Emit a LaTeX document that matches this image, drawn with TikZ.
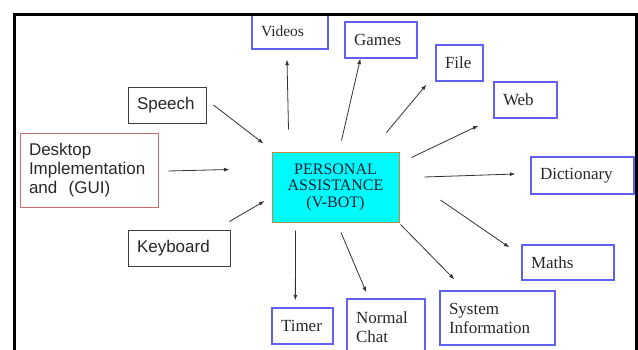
\documentclass[tikz,border=0pt]{standalone}
\usepackage{fontspec}
\setmainfont{Liberation Serif}
\newfontfamily\arialfont{Liberation Sans}
\usetikzlibrary{calc,arrows.meta}

\definecolor{bluebox}{RGB}{96,96,245}
\definecolor{redbox}{RGB}{200,110,110}
\definecolor{greybox}{RGB}{60,60,60}
\definecolor{coreborder}{RGB}{190,140,70}
\definecolor{corefill}{RGB}{0,250,250}
\definecolor{txt}{RGB}{40,40,40}
\definecolor{arrowcol}{RGB}{50,50,50}

\tikzset{
  bx/.style 2 args={draw, rectangle, text width=#1, minimum height=#2,
    inner xsep=9pt, inner ysep=0pt, align=left, text=txt},
  bluebx/.style={draw=bluebox, line width=1.3pt,
    font=\fontsize{17}{19}\selectfont},
  greybx/.style={draw=greybox, line width=0.9pt,
    font=\arialfont\fontsize{17}{19}\selectfont},
  link/.style={draw=arrowcol, line width=0.8pt,
    -{Latex[length=5.5pt,width=4pt]}},
}

\begin{document}
\begin{tikzpicture}[x=1pt, y=-1pt]
\useasboundingbox (0,0) rectangle (638,349);
\clip (0,0) rectangle (638,349);

% central hub
\node[bx={109pt}{70pt}, align=center, draw=coreborder, line width=1pt,
      fill=corefill, text={rgb,255:red,20;green,30;blue,50},
      font=\fontsize{16}{16.5}\selectfont]
  (pa) at (335.5,187) {PERSONAL\\ASSISTANCE\\(V-BOT)};

% input boxes
\node[bx={60pt}{36pt}, greybx] (speech) at (167,105) {Speech};
\node[bx={120pt}{74pt}, greybx, draw=redbox] (desk) at (89,170)
  {Desktop\\Implementation\\and\ \ (GUI)};
\node[bx={84pt}{36pt}, greybx] (kb) at (179,248) {Keyboard};

% feature boxes
\node[bx={58pt}{35pt}, bluebx, font=\fontsize{15.5}{18}\selectfont] (videos) at (290,31.5) {Videos};
\node[bx={54pt}{36pt}, bluebx] (games) at (381,40) {Games};
\node[bx={29pt}{36pt}, bluebx] (file) at (459.5,63) {File};
\node[bx={45pt}{36pt}, bluebx] (web) at (525.5,100) {Web};
\node[bx={85pt}{37pt}, bluebx] (dict) at (582.5,175.5) {Dictionary};
\node[bx={74pt}{35pt}, bluebx] (maths) at (568,262.5) {Maths};
\node[bx={97pt}{54pt}, bluebx] (sys) at (497.5,318) {System\\Information};
\node[bx={60pt}{56pt}, bluebx] (chat) at (386,327) {Normal\\Chat};
\node[bx={43pt}{36pt}, bluebx] (timer) at (302.5,326) {Timer};

% outer frame (open at the bottom)
\draw[line width=3pt] (14.5,360) -- (14.5,14.5) -- (636.5,14.5) -- (636.5,360);

% inputs into the hub
\draw[link] ($(speech.east)+(7,0)$) -- ($(pa.north west)+(-8,-8)$);
\draw[link] ($(desk.east)+(10,1)$) -- ($(pa.north west)+(-42,18)$);
\draw[link] ($(kb.north east)+(-1,-8)$) -- ($(pa.west)+(-7,14)$);

% hub out to the features
\draw[link] ($(pa.north west)+(17,-22)$) -- ($(videos.south)+(-3,10)$);
\draw[link] ($(pa.north)+(6,-11)$) -- ($(games.south west)+(16,0)$);
\draw[link] ($(pa.north east)+(-13,-19)$) -- ($(file.south west)+(-9,3)$);
\draw[link] ($(pa.north east)+(12,6)$) -- ($(web.south west)+(-15,7)$);
\draw[link] ($(pa.east)+(25,-10)$) -- ($(dict.west)+(-15,-1.5)$);
\draw[link] ($(pa.east)+(41,13)$) -- ($(maths.north west)+(-12,3)$);
\draw[link] ($(pa.south east)+(1,2)$) -- ($(sys.north west)+(15,-11)$);
\draw[link] ($(pa.south)+(5.5,10)$) -- ($(chat.north west)+(20,-6)$);
\draw[link] ($(pa.south west)+(24,8)$) -- ($(timer.north west)+(24,-7)$);
\end{tikzpicture}
\end{document}
